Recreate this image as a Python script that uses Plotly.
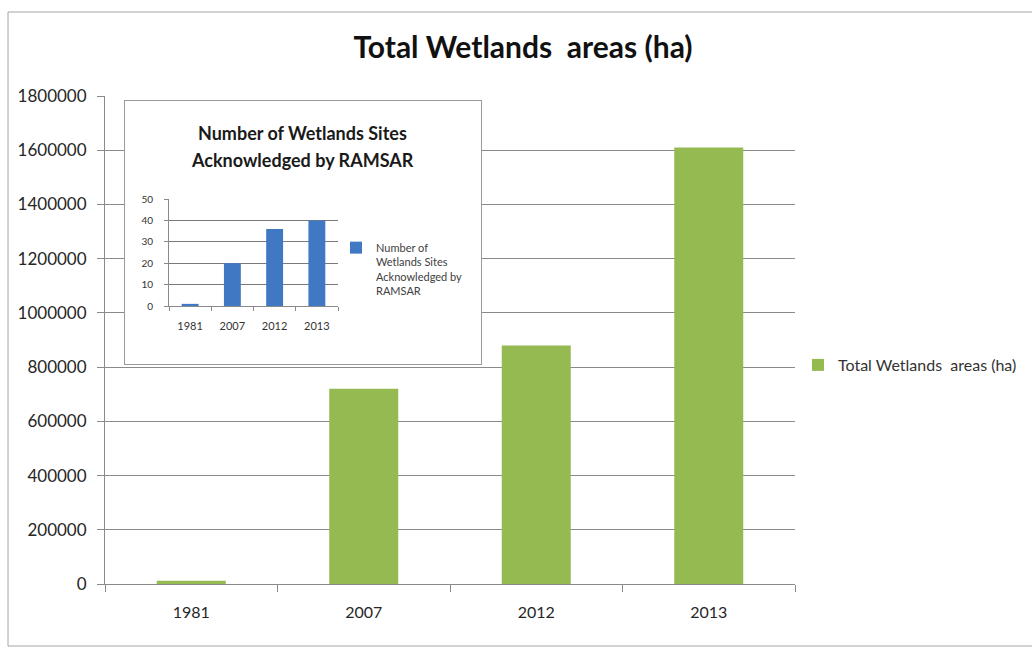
import plotly.graph_objects as go

# ---- data -------------------------------------------------------------
years = ["1981", "2007", "2012", "2013"]
wetland_area_ha = [12000, 720000, 880000, 1610000]
ramsar_sites = [1, 20, 36, 40]

area_ticks = list(range(0, 1800001, 200000))
site_ticks = list(range(0, 51, 10))

main_title = "Total Wetlands\u00a0 areas (ha)"
inset_title_lines = ["Number of Wetlands Sites", "Acknowledged by RAMSAR"]
inset_series_name = "Number of<br>Wetlands Sites<br>Acknowledged by<br>RAMSAR"

# ---- page geometry helpers (pixel -> paper fraction) -------------------
W, H = 1032, 651


def fx(px):
    return px / W


def fy(px):
    return 1 - px / H


FONT = "Lato"
GREEN = "#95BA52"
BLUE = "#4178C4"
GRID = "#8A8A8A"
TEXT = "#262626"

fig = go.Figure()

# main chart: total wetland area
fig.add_trace(go.Bar(
    x=years, y=wetland_area_ha, name=main_title,
    marker=dict(color=GREEN, line_width=0),
    xaxis="x", yaxis="y", legend="legend",
))

# empty trace that creates the framed panel holding the inset chart;
# its white background hides the main gridlines behind the inset
fig.add_trace(go.Scatter(
    x=[None], y=[None], mode="lines", showlegend=False, hoverinfo="skip",
    xaxis="x2", yaxis="y2",
))

# inset chart: number of Ramsar sites
fig.add_trace(go.Bar(
    x=years, y=ramsar_sites, name=inset_series_name,
    marker=dict(color=BLUE, line_width=0),
    xaxis="x3", yaxis="y3", legend="legend2",
))

fig.update_layout(
    width=W, height=H,
    margin=dict(l=0, r=0, t=0, b=0, autoexpand=False),
    paper_bgcolor="white", plot_bgcolor="white",
    font=dict(family=FONT, color=TEXT),
    bargap=0.6,
    title=dict(
        text=main_title, x=fx(523), xanchor="center",
        y=fy(47), yanchor="middle",
        font=dict(family=FONT, size=30, weight="bold", color="#111111"),
    ),
    # main axes
    xaxis=dict(
        domain=[fx(105), fx(795)], anchor="y", type="category",
        showline=True, linecolor=GRID, linewidth=1,
        ticks="outside", ticklen=7, tickcolor=GRID, tickson="boundaries",
        tickfont=dict(size=16, color=TEXT), ticklabelstandoff=14,
        showgrid=False, fixedrange=True, automargin=False,
    ),
    yaxis=dict(
        domain=[fy(584), fy(96)], anchor="x", range=[0, 1800000],
        tickvals=area_ticks, tickformat="d",
        showline=True, linecolor=GRID, linewidth=1,
        ticks="outside", ticklen=7, tickcolor=GRID,
        tickfont=dict(size=17, color=TEXT), ticklabelstandoff=7,
        showgrid=True, gridcolor=GRID, gridwidth=1, zeroline=False,
        fixedrange=True, automargin=False,
    ),
    # framed panel of the inset chart
    xaxis2=dict(
        domain=[fx(125), fx(481)], anchor="y2", range=[0, 1],
        showline=True, mirror=True, linecolor="#9A9A9A", linewidth=1.2,
        showticklabels=False, ticks="", showgrid=False, zeroline=False,
        fixedrange=True, automargin=False,
    ),
    yaxis2=dict(
        domain=[fy(364), fy(101)], anchor="x2", range=[0, 1],
        showline=True, mirror=True, linecolor="#9A9A9A", linewidth=1.2,
        showticklabels=False, ticks="", showgrid=False, zeroline=False,
        fixedrange=True, automargin=False,
    ),
    # inset axes
    xaxis3=dict(
        domain=[fx(169), fx(338)], anchor="y3", type="category",
        showline=True, linecolor=GRID, linewidth=1,
        ticks="outside", ticklen=4, tickcolor=GRID, tickson="boundaries",
        tickfont=dict(size=11, color="#333333"), ticklabelstandoff=10,
        showgrid=False, fixedrange=True, automargin=False,
    ),
    yaxis3=dict(
        domain=[fy(306), fy(199)], anchor="x3", range=[0, 50],
        tickvals=site_ticks,
        showline=True, linecolor=GRID, linewidth=1,
        ticks="outside", ticklen=4, tickcolor=GRID,
        tickfont=dict(size=10, color="#333333"), ticklabelstandoff=9,
        showgrid=True, gridcolor="#7A7A7A", gridwidth=1, zeroline=False,
        fixedrange=True, automargin=False,
    ),
    legend=dict(
        x=fx(798), xanchor="left", y=fy(365), yanchor="middle",
        font=dict(family=FONT, size=16, color="#333333"),
        bgcolor="rgba(0,0,0,0)", itemclick=False,
    ),
    legend2=dict(
        x=fx(336), xanchor="left", y=fy(234), yanchor="top", valign="top",
        font=dict(family=FONT, size=11, color="#404040"),
        bgcolor="rgba(0,0,0,0)", itemclick=False,
    ),
    showlegend=True,
)

# inset title, one annotation per line
for text, ypx in zip(inset_title_lines, [133, 160]):
    fig.add_annotation(
        text=text, xref="paper", yref="paper", x=fx(302), y=fy(ypx),
        xanchor="center", yanchor="middle", showarrow=False,
        font=dict(family=FONT, size=18, weight="bold", color="#1A1A1A"),
    )

# outer chart border
fig.add_shape(
    type="rect", xref="paper", yref="paper",
    x0=fx(8), x1=1.02, y0=fy(646), y1=fy(12),
    line=dict(color="#A6A6A6", width=1), fillcolor="rgba(0,0,0,0)",
    layer="below",
)

fig.write_html("out.html")
